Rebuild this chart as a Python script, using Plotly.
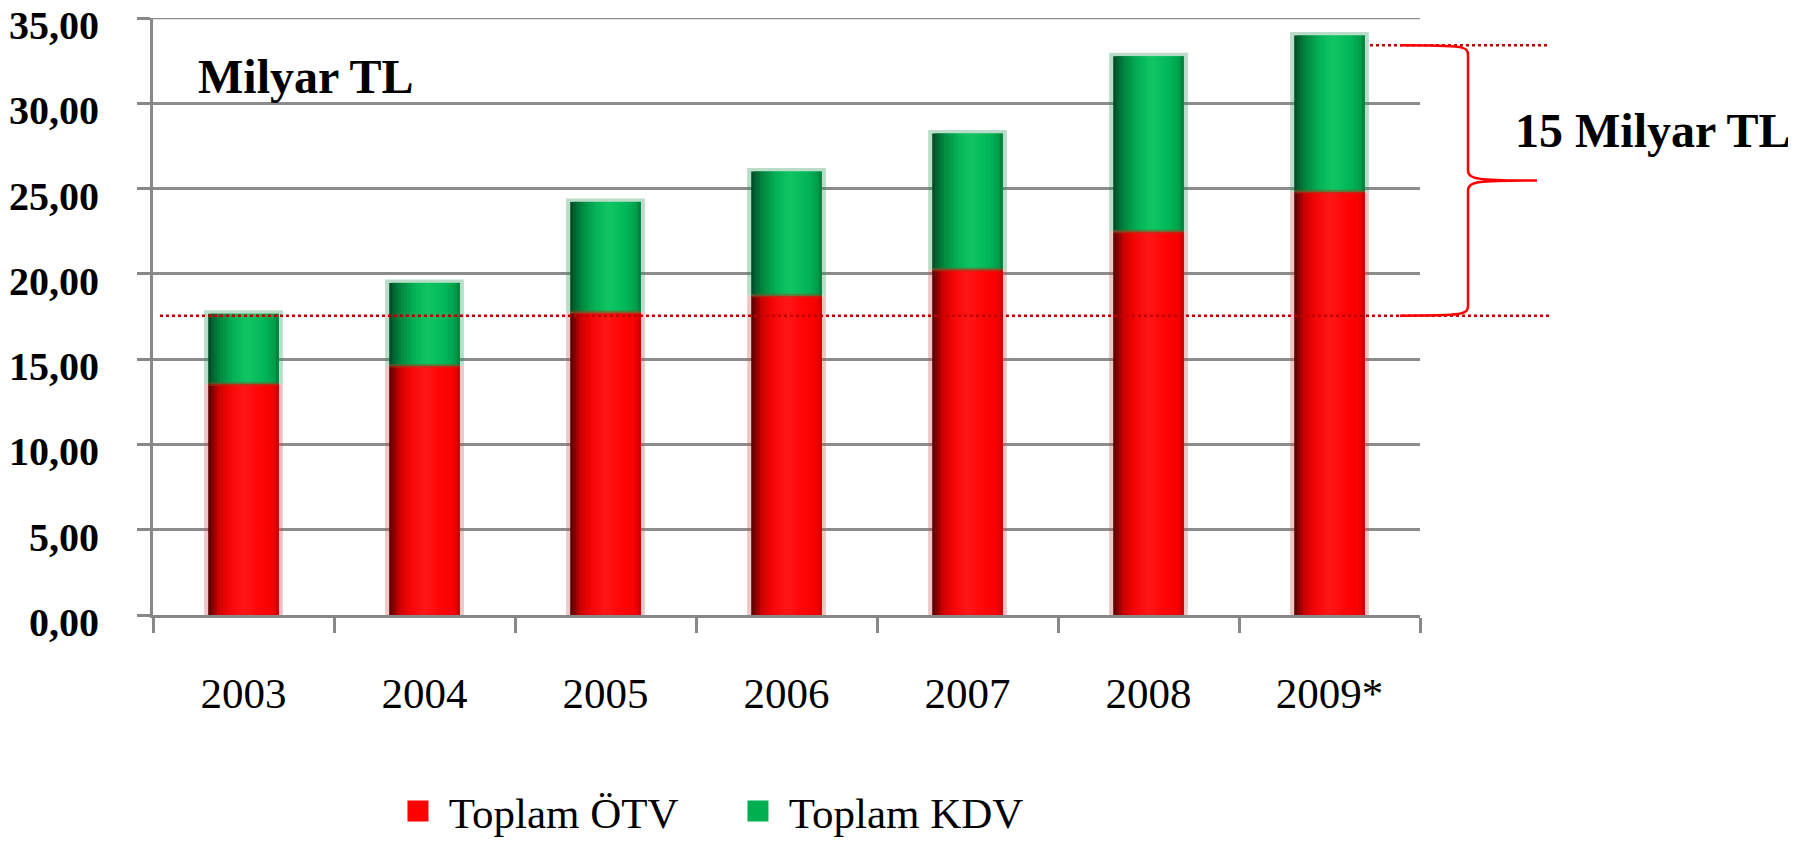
import plotly.graph_objects as go

# ---- data ----
years = ["2003", "2004", "2005", "2006", "2007", "2008", "2009*"]
otv = [13.54, 14.61, 17.74, 18.72, 20.25, 22.48, 24.82]   # Toplam ÖTV
kdv = [4.12, 4.86, 6.48, 7.28, 7.98, 10.28, 9.16]         # Toplam KDV
y_ticks = [0, 5, 10, 15, 20, 25, 30, 35]
series_names = ["Toplam ÖTV", "Toplam KDV"]
unit_label = "Milyar TL"
diff_label = "15 Milyar TL"
brace_low = 17.55
brace_high = 33.4

FONT = "Liberation Serif"
BAR_W = 0.39
N_SLICES = 24

red_stops = [(0.0, (80, 0, 0)), (0.05, (125, 0, 0)), (0.15, (205, 0, 0)), (0.3, (245, 5, 5)),
             (0.5, (255, 22, 22)), (0.75, (255, 4, 4)), (0.93, (245, 0, 0)), (1.0, (190, 0, 0))]
green_stops = [(0.0, (0, 70, 34)), (0.06, (0, 100, 48)), (0.18, (0, 140, 66)), (0.36, (4, 178, 86)),
               (0.55, (16, 198, 100)), (0.8, (0, 182, 88)), (0.93, (0, 160, 76)), (1.0, (0, 120, 56))]


def interp(stops, t):
    for (t0, c0), (t1, c1) in zip(stops[:-1], stops[1:]):
        if t0 <= t <= t1:
            f = (t - t0) / (t1 - t0) if t1 > t0 else 0
            return "rgb(%d,%d,%d)" % tuple(round(a + (b - a) * f) for a, b in zip(c0, c1))
    return "rgb(%d,%d,%d)" % stops[-1][1]


fig = go.Figure()

# halo behind bars
halo = BAR_W + 0.045
fig.add_trace(go.Bar(x=years, y=otv, base=[0] * len(otv), width=halo, offset=-halo / 2,
                     marker=dict(color="rgba(200,80,80,0.32)", line=dict(width=0)),
                     showlegend=False, hoverinfo="skip"))
fig.add_trace(go.Bar(x=years, y=[k + 0.2 for k in kdv], base=otv, width=halo, offset=-halo / 2,
                     marker=dict(color="rgba(40,150,90,0.32)", line=dict(width=0)),
                     showlegend=False, hoverinfo="skip"))

# gradient slices (each overlaps the next to avoid seams)
sw = BAR_W / N_SLICES
for i in range(N_SLICES):
    t = (i + 0.5) / N_SLICES
    off = -BAR_W / 2 + i * sw
    w = sw * 2 if i < N_SLICES - 1 else sw
    fig.add_trace(go.Bar(x=years, y=otv, base=[0] * len(otv), width=w, offset=off,
                         marker=dict(color=interp(red_stops, t), line=dict(width=0)),
                         showlegend=False, hoverinfo="skip"))
    fig.add_trace(go.Bar(x=years, y=kdv, base=otv, width=w, offset=off,
                         marker=dict(color=interp(green_stops, t), line=dict(width=0)),
                         showlegend=False, hoverinfo="skip"))

# junction line between segments
fig.add_trace(go.Bar(x=years, y=[0.22] * len(otv), base=[o - 0.11 for o in otv], width=BAR_W, offset=-BAR_W / 2,
                     marker=dict(color="rgba(150,70,30,0.5)", line=dict(width=0)),
                     showlegend=False, hoverinfo="skip"))

# legend entries
for name, col in zip(series_names, ["#FF0000", "#00B050"]):
    fig.add_trace(go.Scatter(x=[None], y=[None], mode="markers", name="\u00a0" + name,
                             marker=dict(symbol="square", size=16, color=col,
                                         line=dict(color=col, width=5))))

# top grid line and dotted reference lines and brace
shapes = [
    dict(type="line", xref="paper", yref="y", x0=0, x1=1, y0=y_ticks[-1], y1=y_ticks[-1],
         line=dict(color="#8c8c8c", width=2.5), layer="below"),
    dict(type="line", xref="paper", yref="y", x0=0.0055, x1=1.1026, y0=brace_low, y1=brace_low,
         line=dict(color="#C00000", width=2.5, dash="dot"), layer="above"),
    dict(type="line", xref="paper", yref="y", x0=0.9605, x1=1.1026, y0=brace_high, y1=brace_high,
         line=dict(color="#C00000", width=2.5, dash="dot"), layer="above"),
]
mid = (brace_low + brace_high) / 2
xa, xb, xc = 0.9842, 1.0379, 1.0923
d = 0.6
path = (f"M {xa},{brace_high} C {xb - 0.003},{brace_high} {xb},{brace_high - 0.05} {xb},{brace_high - d} "
        f"L {xb},{mid + d} C {xb},{mid + 0.05} {xb + 0.008},{mid} {xc},{mid} "
        f"C {xb + 0.008},{mid} {xb},{mid - 0.05} {xb},{mid - d} "
        f"L {xb},{brace_low + d} C {xb},{brace_low + 0.05} {xb - 0.003},{brace_low} {xa},{brace_low}")
shapes.append(dict(type="path", xref="paper", yref="y", path=path,
                   line=dict(color="#FF0000", width=2.5), layer="above"))

annotations = [
    dict(text=f"<b>{unit_label}</b>", xref="paper", yref="y", x=0.034, y=31.55,
         xanchor="left", yanchor="middle", showarrow=False,
         font=dict(family=FONT, size=48, color="black")),
    dict(text=f"<b>{diff_label}</b>", xref="paper", yref="y", x=1.0734, y=28.4,
         xanchor="left", yanchor="middle", showarrow=False,
         font=dict(family=FONT, size=48, color="black")),
]

# page body has an 8px margin, so the figure is offset by 8px
fig.update_layout(
    width=1788, height=833,
    margin=dict(l=145, r=376, t=10, b=226, pad=0, autoexpand=False),
    paper_bgcolor="white", plot_bgcolor="white",
    barmode="overlay",
    separators=",.",
    shapes=shapes, annotations=annotations,
    showlegend=True,
    legend=dict(orientation="h", xref="container", yref="container", x=0.2181, y=0.036,
                xanchor="left", yanchor="middle",
                font=dict(family=FONT, size=43, color="black"),
                entrywidth=295, entrywidthmode="pixels", itemclick=False),
    xaxis=dict(type="category", categoryorder="array", categoryarray=years,
               showline=True, linecolor="#888888", linewidth=3, automargin=False,
               ticks="outside", tickson="boundaries", ticklen=15, tickwidth=2.5, tickcolor="#888888",
               tickfont=dict(family=FONT, size=43, color="black"),
               ticklabelstandoff=38, showgrid=False),
    yaxis=dict(range=[0, 35], tickvals=y_ticks, tickformat=".2f", automargin=False,
               showline=True, linecolor="#888888", linewidth=3,
               ticks="outside", ticklen=13, tickwidth=2.5, tickcolor="#888888",
               showgrid=True, gridcolor="#8c8c8c", gridwidth=2.5,
               tickfont=dict(family=FONT, size=40, color="black", weight="bold"),
               ticklabelstandoff=30, ticklabelshift=7, ticklabeloverflow="allow", zeroline=False),
)

fig.write_html("out.html")
